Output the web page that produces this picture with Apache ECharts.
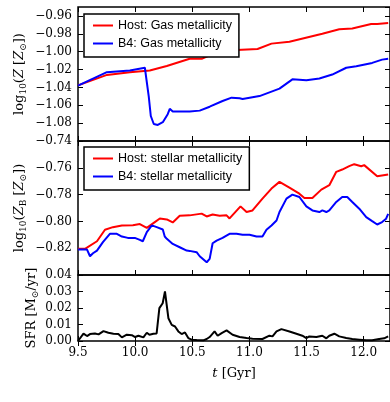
<!DOCTYPE html>
<html>
<head>
<meta charset="utf-8">
<script src="https://cdn.jsdelivr.net/npm/echarts@6/dist/echarts.min.js"></script>
<style>html,body{margin:0;padding:0;background:#fff}#chart{width:390px;height:402px}</style>
</head>
<body>
<div id="chart"></div>
<script>
// ---- Data (time in Gyr) ----
var gasHostT = [9.500, 9.753, 9.954, 10.128, 10.277, 10.477, 10.582, 10.652, 10.739, 10.887, 11.071, 11.193, 11.350, 11.638, 11.786, 11.900, 12.065, 12.118, 12.214];
var gasHostV = [-1.0378, -1.026, -1.023, -1.021, -1.016, -1.008, -1.008, -1.004, -1.000, -0.998, -0.997, -0.991, -0.989, -0.980, -0.975, -0.974, -0.969, -0.969, -0.968];

var gasB4T = [9.500, 9.753, 9.954, 10.085, 10.102, 10.119, 10.137, 10.163, 10.198, 10.242, 10.285, 10.303, 10.329, 10.477, 10.565, 10.652, 10.765, 10.844, 10.914, 10.940, 11.088, 11.263, 11.376, 11.498, 11.612, 11.725, 11.847, 11.935, 12.074, 12.161, 12.214];
var gasB4V = [-1.038, -1.023, -1.021, -1.018, -1.020, -1.050, -1.072, -1.081, -1.082, -1.079, -1.070, -1.064, -1.067, -1.067, -1.066, -1.0616, -1.0552, -1.0515, -1.0522, -1.053, -1.0497, -1.0414, -1.031, -1.0319, -1.030, -1.0256, -1.018, -1.0163, -1.0126, -1.0089, -1.008];

var starHostT = [9.500, 9.561, 9.666, 9.736, 9.805, 9.884, 9.980, 10.041, 10.102, 10.172, 10.216, 10.277, 10.329, 10.390, 10.477, 10.582, 10.626, 10.678, 10.739, 10.800, 10.826, 10.922, 10.975, 11.027, 11.114, 11.193, 11.263, 11.350, 11.437, 11.481, 11.551, 11.568, 11.629, 11.699, 11.760, 11.812, 11.873, 11.917, 11.978, 12.004, 12.118, 12.214];
var starHostV = [-0.8205, -0.8205, -0.8148, -0.8062, -0.8043, -0.803, -0.8028, -0.802, -0.8048, -0.8005, -0.7978, -0.7985, -0.8008, -0.7958, -0.7955, -0.7942, -0.7963, -0.7948, -0.7958, -0.7955, -0.7978, -0.7888, -0.793, -0.7918, -0.783, -0.7755, -0.7705, -0.7748, -0.7793, -0.7825, -0.7825, -0.7838, -0.7763, -0.773, -0.763, -0.7613, -0.7588, -0.7573, -0.7588, -0.758, -0.7663, -0.765];

var starB4T = [9.500, 9.579, 9.605, 9.631, 9.666, 9.718, 9.779, 9.840, 9.884, 9.936, 9.997, 10.041, 10.067, 10.102, 10.146, 10.189, 10.242, 10.259, 10.277, 10.329, 10.390, 10.451, 10.477, 10.538, 10.565, 10.626, 10.652, 10.678, 10.713, 10.765, 10.826, 10.887, 10.940, 11.001, 11.062, 11.114, 11.149, 11.193, 11.237, 11.263, 11.324, 11.376, 11.437, 11.498, 11.551, 11.612, 11.638, 11.673, 11.699, 11.760, 11.812, 11.856, 11.900, 11.961, 12.022, 12.074, 12.118, 12.161, 12.196, 12.214];
var starB4V = [-0.821, -0.821, -0.826, -0.8238, -0.8218, -0.8155, -0.8093, -0.8093, -0.8113, -0.8123, -0.8123, -0.8138, -0.8148, -0.808, -0.803, -0.8043, -0.806, -0.8113, -0.813, -0.8168, -0.8193, -0.8218, -0.822, -0.823, -0.826, -0.8305, -0.828, -0.8163, -0.8143, -0.8123, -0.8093, -0.8093, -0.810, -0.810, -0.8113, -0.8113, -0.8062, -0.803, -0.7993, -0.793, -0.783, -0.780, -0.7818, -0.7888, -0.7918, -0.793, -0.7918, -0.793, -0.7918, -0.7855, -0.7818, -0.7818, -0.7855, -0.7905, -0.7968, -0.7998, -0.8023, -0.8005, -0.798, -0.7943];

var sfrT = [9.500, 9.517, 9.548, 9.579, 9.605, 9.648, 9.680, 9.723, 9.766, 9.810, 9.853, 9.884, 9.927, 9.971, 10.000, 10.029, 10.072, 10.102, 10.125, 10.160, 10.188, 10.212, 10.241, 10.261, 10.291, 10.320, 10.349, 10.378, 10.407, 10.436, 10.465, 10.494, 10.538, 10.597, 10.626, 10.652, 10.695, 10.722, 10.757, 10.800, 10.853, 10.914, 10.975, 11.027, 11.114, 11.175, 11.202, 11.237, 11.280, 11.350, 11.411, 11.463, 11.498, 11.524, 11.586, 11.638, 11.673, 11.699, 11.743, 11.786, 11.847, 11.900, 11.961, 12.022, 12.074, 12.135, 12.179, 12.214];
var sfrV = [0.0000, 0.0005, 0.0045, 0.0030, 0.0042, 0.0046, 0.0040, 0.0060, 0.0050, 0.0044, 0.0042, 0.0022, 0.0038, 0.0035, 0.0024, 0.0032, 0.0022, 0.0050, 0.0038, 0.0044, 0.0046, 0.0199, 0.0229, 0.0300, 0.0138, 0.0098, 0.0088, 0.0058, 0.0042, 0.0052, 0.0018, 0.0008, 0.0006, 0.0004, 0.0012, 0.0024, 0.0058, 0.0032, 0.0048, 0.0064, 0.0038, 0.0024, 0.0018, 0.0014, 0.0012, 0.0032, 0.0028, 0.0058, 0.0072, 0.0058, 0.0044, 0.0032, 0.0018, 0.0028, 0.0024, 0.0032, 0.0016, 0.0032, 0.0044, 0.0028, 0.0018, 0.0012, 0.0008, 0.0004, 0.0004, 0.0012, 0.0016, 0.0028];

var xTicks = [9.5, 10.0, 10.5, 11.0, 11.5, 12.0];

function zip(t, v) { return t.map(function (x, i) { return [x, v[i]]; }); }

var chart = echarts.init(document.getElementById('chart'), null, { renderer: 'canvas' });

var serif = 'DejaVu Serif';
var sans = 'Liberation Sans';
var X_MIN = xTicks[0], X_MAX = 12.23;

function fmt2(v) {
  var s = Math.abs(v).toFixed(2);
  return (v < -1e-9 ? '\u2212' : '') + s;
}

var grids = [
  { left: 78, right: -1, top: 7, height: 134 },
  { left: 78, right: -1, top: 141, height: 134 },
  { left: 78, right: -1, top: 275, height: 66 }
];
grids.forEach(function (g) { g.show = true; g.borderColor = '#000'; g.borderWidth = 1.5; g.backgroundColor = 'transparent'; });

var tickStyle = { show: true, inside: true, length: 5, lineStyle: { color: '#000', width: 1 } };

var xAxes = [], yAxes = [];
for (var gi = 0; gi < 3; gi++) {
  xAxes.push({
    type: 'value', gridIndex: gi, min: X_MIN, max: X_MAX, interval: 0.5, position: 'bottom',
    axisLine: { show: false }, splitLine: { show: false }, axisTick: tickStyle,
    axisLabel: gi === 2 ? { show: true, color: '#000', fontFamily: serif, fontSize: 12, margin: 6, showMaxLabel: false, formatter: function (v) { return v.toFixed(1); } } : { show: false },
    name: gi === 2 ? '{it|t} [Gyr]' : '', nameLocation: 'middle', nameGap: 26, nameMoveOverlap: false,
    nameTextStyle: { fontFamily: serif, fontSize: 13, color: '#000', rich: { it: { fontFamily: serif, fontStyle: 'italic', fontSize: 13, color: '#000' } } }
  });
  xAxes.push({
    type: 'value', gridIndex: gi, min: X_MIN, max: X_MAX, interval: 0.5, position: 'top',
    axisLine: { show: false }, splitLine: { show: false }, axisTick: tickStyle, axisLabel: { show: false }
  });
}

var yDefs = [
  { min: -1.10, max: -0.95, interval: 0.02, showMin: false, showMax: false, fmt: fmt2,
    name: 'log{sub|10}({it|Z} [{it|Z}{sub|\u2299}])', gap: 50 },
  { min: -0.84, max: -0.74, interval: 0.02, showMin: false, showMax: true, fmt: fmt2,
    name: 'log{sub|10}({it|Z}{sub|B} [{it|Z}{sub|\u2299}])', gap: 50 },
  { min: 0, max: 0.04, interval: 0.01, showMin: true, showMax: true, fmt: function (v) { return v.toFixed(2); },
    name: 'SFR [M{sub|\u2299}/yr]', gap: 38 }
];
var richName = {
  sub: { fontFamily: serif, fontSize: 9, color: '#000', padding: [7, 0, 0, 0] },
  it: { fontFamily: serif, fontStyle: 'italic', fontSize: 13, color: '#000' }
};
yDefs.forEach(function (d, gi) {
  yAxes.push({
    type: 'value', gridIndex: gi, min: d.min, max: d.max, interval: d.interval, position: 'left',
    axisLine: { show: false }, splitLine: { show: false }, axisTick: tickStyle,
    axisLabel: { show: true, color: '#000', fontFamily: serif, fontSize: 12, margin: 6, showMinLabel: d.showMin, showMaxLabel: d.showMax, formatter: d.fmt },
    name: d.name, nameLocation: 'middle', nameGap: d.gap, nameMoveOverlap: false,
    nameTextStyle: { fontFamily: serif, fontSize: 13, color: '#000', rich: richName }
  });
  yAxes.push({
    type: 'value', gridIndex: gi, min: d.min, max: d.max, interval: d.interval, position: 'right',
    axisLine: { show: false }, splitLine: { show: false }, axisTick: tickStyle, axisLabel: { show: false }
  });
});

function lineSeries(name, t, v, color, gi) {
  return {
    name: name, type: 'line', xAxisIndex: gi * 2, yAxisIndex: gi * 2,
    data: zip(t, v), showSymbol: false, symbol: 'none', smooth: false,
    lineStyle: { color: color, width: 2 }, itemStyle: { color: color }, animation: false, clip: true
  };
}

var legendCommon = {
  orient: 'vertical', left: 84, icon: 'rect', itemWidth: 20, itemHeight: 2, itemGap: 3,
  padding: [4, 7, 6, 9], borderColor: '#000', borderWidth: 1.5, backgroundColor: '#fff',
  textStyle: { fontFamily: sans, fontSize: 12.5, color: '#000', lineHeight: 15 }, selectedMode: false
};

var option = {
  animation: false,
  backgroundColor: '#fff',
  grid: grids,
  xAxis: xAxes,
  yAxis: yAxes,
  legend: [
    Object.assign({}, legendCommon, { top: 14, data: ['Host: Gas metallicity', 'B4: Gas metallicity'] }),
    Object.assign({}, legendCommon, { top: 147, data: ['Host: stellar metallicity', 'B4: stellar metallicity'] })
  ],
  series: [
    lineSeries('Host: Gas metallicity', gasHostT, gasHostV, '#ff0000', 0),
    lineSeries('B4: Gas metallicity', gasB4T, gasB4V, '#0000ff', 0),
    lineSeries('Host: stellar metallicity', starHostT, starHostV, '#ff0000', 1),
    lineSeries('B4: stellar metallicity', starB4T, starB4V, '#0000ff', 1),
    lineSeries('SFR', sfrT, sfrV, '#000000', 2)
  ]
};
chart.setOption(option);
</script>
</body>
</html>
